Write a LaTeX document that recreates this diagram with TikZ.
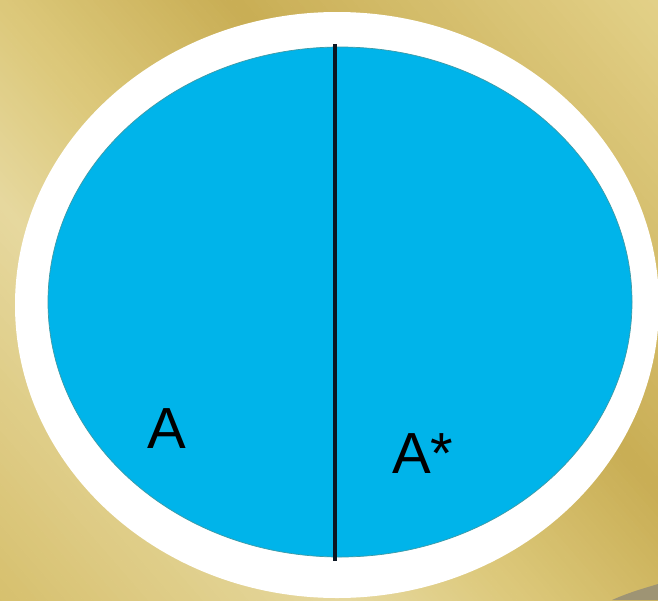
\documentclass[tikz,border=0pt]{standalone}
\usepackage{fontspec}
\setmainfont{Liberation Sans}
\usetikzlibrary{shapes.geometric}
\definecolor{gA}{HTML}{E3D189}
\definecolor{gB}{HTML}{C9AE55}
\definecolor{gC}{HTML}{DCC87A}
\definecolor{gD}{HTML}{E6D89E}
\definecolor{gE}{HTML}{D6BF6C}
\definecolor{diskblue}{HTML}{00B4EA}
\definecolor{diskedge}{HTML}{3E9AA6}
\definecolor{shadowgray}{HTML}{9E9474}
\definecolor{inkline}{HTML}{0B1622}
\newcommand\bgseg[4]{%
  \pgfmathsetmacro\stp{((#2)-(#1))/40}%
  \foreach \i in {0,...,39}{%
    \pgfmathsetmacro\sa{(#1)+\stp*\i}%
    \pgfmathsetmacro\sb{\sa+\stp+0.8}%
    \pgfmathtruncatemacro\p{\i*100/39}%
    \fill[#4!\p!#3] (-5,{\sa-5.75}) -- (665,{\sa+764.75}) -- (665,{\sb+764.75}) -- (-5,{\sb-5.75}) -- cycle;
  }%
}
\tikzset{
  lbl/.style={font=\fontsize{58}{58}\selectfont, text=black, inner sep=0pt, anchor=base west},
  divider/.style={draw=inkline, line width=3.6pt}
}
\begin{document}
\begin{tikzpicture}[x=1pt,y=-1pt]
\useasboundingbox (0,0) rectangle (658,600);
\begin{scope}
  \clip (0,0) rectangle (658,600);
  \bgseg{-770}{-266}{gA}{gB}
  \bgseg{-266}{0}{gB}{gC}
  \bgseg{0}{200}{gC}{gD}
  \bgseg{200}{620}{gD}{gE}
  \fill[shadowgray] (612,600) .. controls (630,592) and (645,588) .. (658,584) -- (658,600) -- cycle;
\end{scope}
\node[ellipse, fill=white, minimum width=644pt, minimum height=586pt, inner sep=0pt] (outer) at (337,305) {};
\node[ellipse, fill=diskblue, draw=diskedge, line width=0.7pt, minimum width=584pt, minimum height=510pt, inner sep=0pt] (disk) at (340,302) {};
\coordinate (ltop) at (335,44);
\coordinate (lbot) at (335,561);
\draw[divider] (ltop) -- (lbot);
\node[lbl] (la) at (147,448) {A};
\node[lbl] (lb) at (392,473) {A*};
\end{tikzpicture}
\end{document}
